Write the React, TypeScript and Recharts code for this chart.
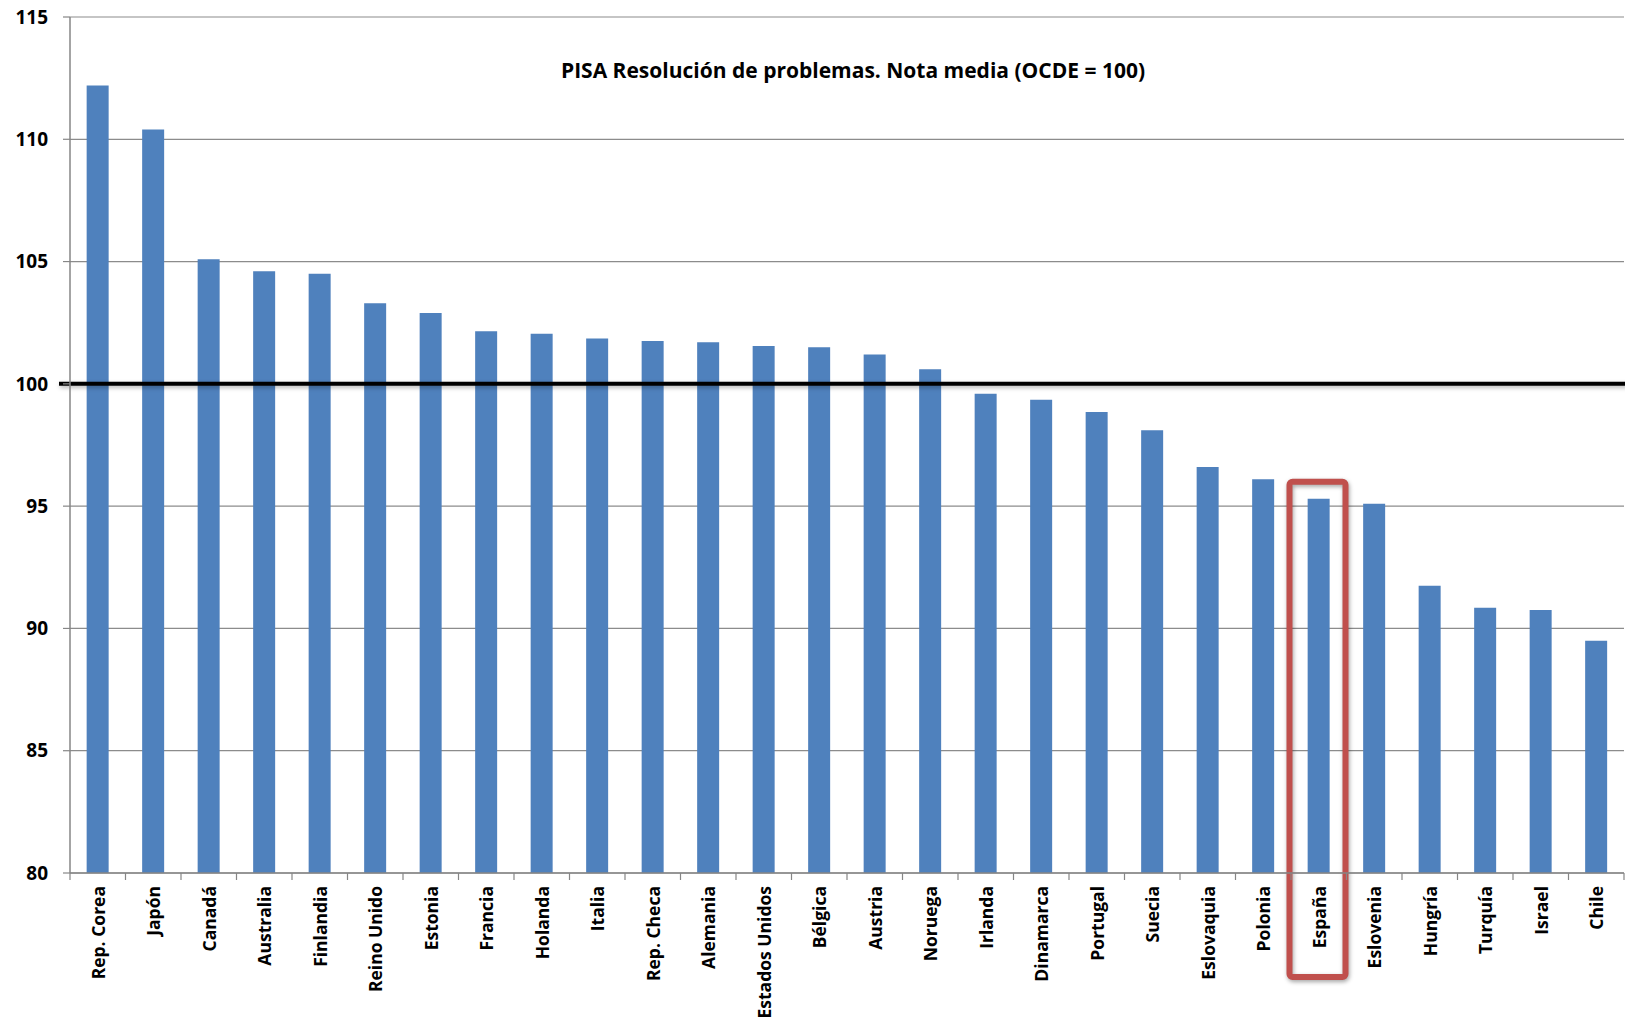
import React from "react";
import { BarChart, Bar, XAxis, YAxis, CartesianGrid, ReferenceLine, ReferenceArea } from "recharts";

const countries = [
  "Rep. Corea", "Japón", "Canadá", "Australia", "Finlandia", "Reino Unido", "Estonia",
  "Francia", "Holanda", "Italia", "Rep. Checa", "Alemania", "Estados Unidos", "Bélgica",
  "Austria", "Noruega", "Irlanda", "Dinamarca", "Portugal", "Suecia", "Eslovaquia",
  "Polonia", "España", "Eslovenia", "Hungría", "Turquía", "Israel", "Chile",
];
const scores = [
  112.2, 110.4, 105.1, 104.6, 104.5, 103.3, 102.9,
  102.15, 102.05, 101.85, 101.75, 101.7, 101.55, 101.5,
  101.2, 100.6, 99.6, 99.35, 98.85, 98.1, 96.6,
  96.1, 95.3, 95.1, 91.75, 90.85, 90.75, 89.5,
];
const yTicks = [80, 85, 90, 95, 100, 105, 110, 115];
const title = "PISA Resolución de problemas. Nota media (OCDE = 100)";
const highlighted = "España";
const highlightTop = 96.0;
const referenceValue = 100;

const data = countries.map((c, i) => ({ country: c, score: scores[i] }));

const FONT = "'Open Sans', Lato, sans-serif";
const BAND = 1554 / countries.length;

const XTick = (props: any) => {
  const { x, y, payload, index } = props;
  const axisY = y - 8;
  return (
    <g>
      <line x1={x - BAND / 2} y1={axisY} x2={x - BAND / 2} y2={axisY + 7} stroke="#868686" strokeWidth={1.2} />
      {index === countries.length - 1 && (
        <line x1={x + BAND / 2} y1={axisY} x2={x + BAND / 2} y2={axisY + 7} stroke="#868686" strokeWidth={1.2} />
      )}
      <text
        x={x}
        y={axisY + 13}
        transform={`rotate(-90, ${x}, ${axisY + 13})`}
        textAnchor="end"
        dominantBaseline="central"
        fontFamily={FONT}
        fontWeight={700}
        fontSize={17.5}
        fill="#000"
      >
        {payload.value}
      </text>
    </g>
  );
};

const RedBox = (props: any) => {
  const { x, y, width, height } = props;
  return (
    <rect
      x={x - 1.5}
      y={y}
      width={width + 0.5}
      height={height + 104}
      rx={3}
      ry={3}
      fill="none"
      stroke="#C0504D"
      strokeWidth={6}
      style={{ filter: "drop-shadow(1px 2px 2px rgba(0,0,0,0.35))" }}
    />
  );
};

const ThickLine = (props: any) => {
  const { x1, y1, x2, y2 } = props;
  return (
    <line
      x1={x1 - 11}
      y1={y1}
      x2={x2 + 4}
      y2={y2}
      stroke="#000"
      strokeWidth={4}
      style={{ filter: "drop-shadow(1px 2px 2px rgba(0,0,0,0.3))" }}
    />
  );
};

export default function App() {
  return (
    <div style={{ width: 1633, height: 1026, margin: -8, position: "relative", background: "#fff" }}>
      <BarChart
        width={1633}
        height={1026}
        data={data}
        margin={{ top: 17, right: 9, bottom: 0, left: 0 }}
        barCategoryGap="30%"
      >
        <CartesianGrid horizontal vertical={false} stroke="#8c8c8c" strokeWidth={1.2} />
        <XAxis
          dataKey="country"
          interval={0}
          height={153}
          tickLine={false}
          tickSize={0}
          tickMargin={8}
          axisLine={{ stroke: "#868686", strokeWidth: 1.5 }}
          tick={<XTick />}
        />
        <YAxis
          type="number"
          domain={[80, 115]}
          ticks={yTicks}
          allowDataOverflow
          width={70}
          tickSize={7}
          tickMargin={15}
          axisLine={{ stroke: "#868686", strokeWidth: 1.5 }}
          tickLine={{ stroke: "#868686", strokeWidth: 1.2 }}
          tick={{ fill: "#000", fontFamily: FONT, fontWeight: 700, fontSize: 19 }}
        />
        <Bar dataKey="score" fill="#4F81BD" isAnimationActive={false} />
        <ReferenceArea
          x1={highlighted}
          x2={highlighted}
          y1={80}
          y2={highlightTop}
          ifOverflow="visible"
          shape={<RedBox />}
        />
        <ReferenceLine y={referenceValue} ifOverflow="visible" shape={<ThickLine />} />
      </BarChart>
      <div
        style={{
          position: "absolute",
          left: 0,
          top: 56,
          width: 1706,
          textAlign: "center",
          fontFamily: FONT,
          fontWeight: 700,
          fontSize: 21,
          lineHeight: "28px",
          color: "#000",
          pointerEvents: "none",
        }}
      >
        {title}
      </div>
    </div>
  );
}
